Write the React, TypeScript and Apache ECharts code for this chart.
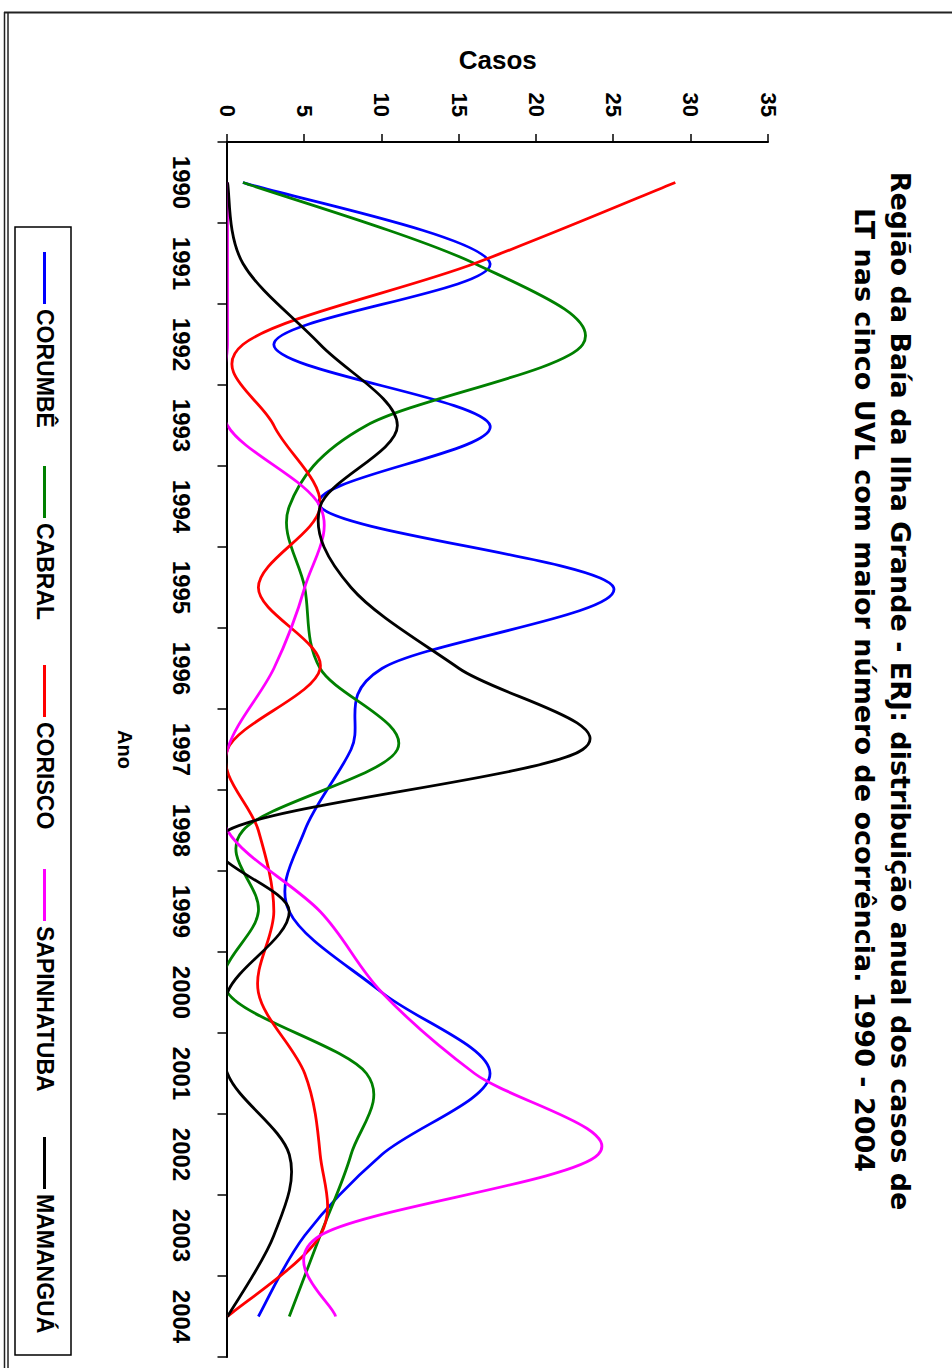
import React, { useEffect, useRef } from "react";
import * as echarts from "echarts";

// ---- data ----
const YEARS = ["1990", "1991", "1992", "1993", "1994", "1995", "1996", "1997", "1998", "1999", "2000", "2001", "2002", "2003", "2004"];
const CORUMBE = [1, 17, 3, 17, 6, 25, 10, 8, 5, 4, 10, 17, 10, 5, 2];
const CABRAL = [1, 16, 23, 9, 4, 5, 6, 11, 1, 2, 0, 9, 8, 6, 4];
const CORISCO = [29, 16, 1, 3, 6, 2, 6, 0, 2, 3, 2, 5, 6, 6, 0];
const SAPINHATUBA = [0, 0, 0, 0, 6, 5, 3, 0, 0, 6, 10, 16, 24, 6, 7];
const MAMANGUA = [0, 1, 6, 11, 6, 8, 15, 23, 0, 4, 0, 0, 4, 3, 0];
const SERIES_NAMES = ["CORUMBÊ", "CABRAL", "CORISCO", "SAPINHATUBA", "MAMANGUÁ"];
const SERIES_COLORS = ["#0000FF", "#008000", "#FF0000", "#FF00FF", "#000000"];
const VALUE_MIN = 0;
const VALUE_MAX = 35;
const VALUE_STEP = 5;
const TITLE_LINES = [
  "Região da Baía da Ilha Grande - ERJ: distribuição anual dos casos de",
  "LT nas cinco UVL com maior número de ocorrência. 1990 - 2004",
];
const X_NAME = "Ano";
const Y_NAME = "Casos";

const SERIES_VALUES = [CORUMBE, CABRAL, CORISCO, SAPINHATUBA, MAMANGUA];

// layout (chart drawn landscape, then rotated 90deg clockwise on the page)
const CW = 1368;
const CH = 952;
const LEGEND_X = [252, 466, 665, 869, 1137];
const FONT = "'Liberation Sans', Arial, Helvetica, sans-serif";

function makeSeries(name: string, values: number[], color: string) {
  return {
    type: "custom",
    name,
    data: values.map((v, i) => [i, v]),
    encode: { x: 0, y: 1 },
    clip: true,
    itemStyle: { color },
    z: 3,
    renderItem: (params: any, api: any) => {
      if (params.dataIndexInside !== 0) return null;
      const n = params.dataInsideLength;
      const pts: number[][] = [];
      for (let i = 0; i < n; i++) {
        pts.push(api.coord([api.value(0, i), api.value(1, i)]));
      }
      let d = `M${pts[0][0]} ${pts[0][1]}`;
      for (let i = 0; i < n - 1; i++) {
        const p0 = pts[Math.max(i - 1, 0)];
        const p1 = pts[i];
        const p2 = pts[i + 1];
        const p3 = pts[Math.min(i + 2, n - 1)];
        const c1x = p1[0] + (p2[0] - p0[0]) / 6;
        const c1y = p1[1] + (p2[1] - p0[1]) / 6;
        const c2x = p2[0] - (p3[0] - p1[0]) / 6;
        const c2y = p2[1] - (p3[1] - p1[1]) / 6;
        d += ` C${c1x} ${c1y} ${c2x} ${c2y} ${p2[0]} ${p2[1]}`;
      }
      return {
        type: "path",
        shape: { pathData: d },
        style: { fill: "none", stroke: color, lineWidth: 2.8, lineJoin: "round" },
        silent: true,
      };
    },
  };
}

function buildOption(): any {
  const axisText = { color: "#000", fontFamily: FONT, fontWeight: "bold" };
  return {
    animation: false,
    backgroundColor: "#ffffff",
    grid: { left: 142, right: 11, top: 184, bottom: 227.5, containLabel: false },
    xAxis: {
      type: "category",
      data: YEARS,
      boundaryGap: true,
      name: X_NAME,
      nameLocation: "middle",
      nameGap: 93,
      nameTextStyle: { ...axisText, fontSize: 20 },
      axisLine: { show: true, lineStyle: { color: "#000", width: 2 } },
      axisTick: { show: true, length: 10, interval: 0, lineStyle: { color: "#000", width: 1.5 } },
      axisLabel: { ...axisText, fontSize: 24, margin: 34, interval: 0 },
      splitLine: { show: false },
    },
    yAxis: {
      type: "value",
      min: VALUE_MIN,
      max: VALUE_MAX,
      interval: VALUE_STEP,
      name: Y_NAME,
      nameLocation: "middle",
      nameGap: 69,
      nameTextStyle: { ...axisText, fontSize: 26 },
      axisLine: { show: true, lineStyle: { color: "#000", width: 2 } },
      axisTick: { show: true, length: 8, lineStyle: { color: "#000", width: 1.5 } },
      axisLabel: { ...axisText, fontSize: 22, margin: 25 },
      splitLine: { show: false },
    },
    legend: SERIES_NAMES.map((name, i) => ({
      left: LEGEND_X[i],
      top: 896,
      padding: 0,
      itemWidth: 52,
      itemHeight: 3,
      itemGap: 0,
      selectedMode: false,
      data: [{ name, icon: "rect", itemStyle: { color: SERIES_COLORS[i] } }],
      textStyle: { ...axisText, fontSize: 23 },
    })),
    series: SERIES_NAMES.map((name, i) => makeSeries(name, SERIES_VALUES[i], SERIES_COLORS[i])),
    graphic: [
      // outer frame
      { type: "line", shape: { x1: 12.5, y1: -5, x2: 12.5, y2: 948 }, style: { stroke: "#222", lineWidth: 2 }, silent: true },
      { type: "line", shape: { x1: 12, y1: 947.5, x2: CW + 5, y2: 947.5 }, style: { stroke: "#222", lineWidth: 1.5 }, silent: true },
      { type: "line", shape: { x1: 12, y1: 944, x2: CW + 5, y2: 944 }, style: { stroke: "#222", lineWidth: 1.5 }, silent: true },
      // legend box
      { type: "rect", shape: { x: 227, y: 881, width: 1128, height: 56 }, style: { fill: "none", stroke: "#000", lineWidth: 1.5 }, silent: true },
      // title
      {
        type: "text",
        x: 691,
        y: 52,
        silent: true,
        style: { text: TITLE_LINES[0], fill: "#000", fontSize: 27, fontWeight: "bold", fontFamily: "'DejaVu Sans', sans-serif", align: "center", verticalAlign: "middle" },
      },
      {
        type: "text",
        x: 690,
        y: 88,
        silent: true,
        style: { text: TITLE_LINES[1], fill: "#000", fontSize: 27, fontWeight: "bold", fontFamily: "'DejaVu Sans', sans-serif", align: "center", verticalAlign: "middle" },
      },
    ],
  };
}

export default function App() {
  const ref = useRef<HTMLDivElement>(null);
  useEffect(() => {
    const el = ref.current;
    if (!el) return;
    const chart = echarts.init(el, null, { renderer: "svg", width: CW, height: CH });
    chart.setOption(buildOption());
    return () => chart.dispose();
  }, []);
  return (
    <div style={{ position: "fixed", left: 0, top: 0, width: CH, height: CW, overflow: "hidden", background: "#fff" }}>
      <div
        ref={ref}
        style={{
          position: "absolute",
          left: 0,
          top: 0,
          width: CW,
          height: CH,
          transformOrigin: "0 0",
          transform: `translateX(${CH}px) rotate(90deg)`,
        }}
      />
    </div>
  );
}
